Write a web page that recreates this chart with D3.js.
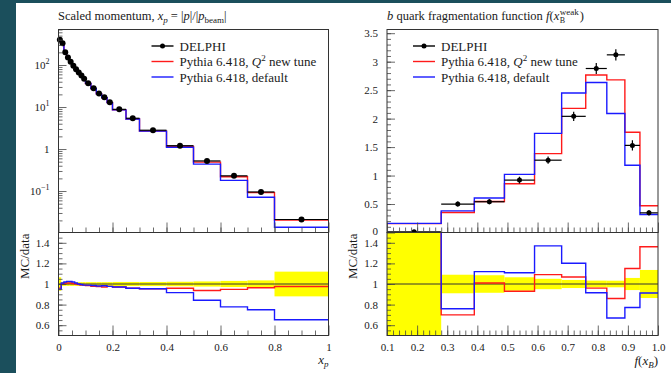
<!DOCTYPE html>
<html>
<head>
<meta charset="utf-8">
<script src="https://cdn.jsdelivr.net/npm/d3@7/dist/d3.min.js"></script>
<style>
    body { margin: 0; background: #1b4f5c; }
    svg { display: block; }
    text { font-family: "Liberation Serif", "DejaVu Serif", serif; fill: #1a1a1a; }
    .frame { fill: none; stroke: #333; stroke-width: 1; }
    .axis path { display: none; }
    .axis line { stroke: #444; stroke-width: 0.8; }
    .axis text { font-size: 11px; font-family: "Liberation Serif", serif; fill: #1a1a1a; }
    .mc-new { fill: none; stroke: #ff1a1a; stroke-width: 1.4; }
    .mc-def { fill: none; stroke: #1a1aff; stroke-width: 1.4; }
    .band { fill: #ffff00; }
    .unity { stroke: #333; stroke-width: 1; }
    .err { stroke: #000; stroke-width: 1.2; }
    .dot { fill: #000; }
</style>
</head>
<body>
<svg id="chart" width="671" height="373"></svg>
<script>
// Scaled momentum x_p ////////////////////////////////////////////////////

var xpEdges = [0, 0.01, 0.02, 0.03, 0.04, 0.05, 0.06, 0.07, 0.08, 0.09, 0.10,
               0.12, 0.14, 0.16, 0.18, 0.20, 0.25, 0.30, 0.40, 0.50, 0.60, 0.70, 0.80, 1.00];
var xpData = [400, 330, 200, 150, 120, 96, 79, 66, 56, 47,
              37, 28, 21, 17, 13, 8.8, 5.4, 2.8, 1.2, 0.52, 0.23, 0.095, 0.021];
var xpRelErr = [0.065, 0.02, 0.018, 0.018, 0.018, 0.018, 0.018, 0.018, 0.018, 0.018,
                0.018, 0.018, 0.018, 0.018, 0.018, 0.02, 0.02, 0.02, 0.022, 0.025, 0.03, 0.035, 0.12];
var xpNewTune = [384, 330, 202, 151.5, 121.2, 96.5, 79, 65.7, 55.4, 46.5,
                 36.4, 27.4, 20.5, 16.5, 12.7, 8.54, 5.18, 2.67, 1.15, 0.487, 0.218, 0.0916, 0.0205];
var xpDefault = [380, 333, 204, 153.8, 123, 97.9, 79.8, 66, 55.7, 46.5,
                 36.6, 27.6, 20.6, 16.7, 12.7, 8.54, 5.18, 2.67, 1.10, 0.438, 0.179, 0.0713, 0.0137];

// b quark fragmentation x_B //////////////////////////////////////////////

var xbEdges = [0.10, 0.28, 0.39, 0.49, 0.59, 0.68, 0.76, 0.83, 0.89, 0.94, 1.00];
var xbData = [0.012, 0.50, 0.54, 0.92, 1.27, 2.04, 2.88, 3.12, 1.53, 0.345];
var xbErr = [0.02, 0.045, 0.046, 0.06, 0.064, 0.08, 0.095, 0.10, 0.09, 0.047];
var xbNewTune = [0.155, 0.35, 0.545, 0.855, 1.385, 2.18, 2.765, 2.68, 1.76, 0.47];
var xbDefault = [0.16, 0.38, 0.605, 1.02, 1.74, 2.45, 2.635, 2.09, 1.18, 0.315];

var legendLabels = ["DELPHI", "Pythia 6.418, ", "Pythia 6.418, default"];

var svg = d3.select("#chart");

// white page area
svg.append("rect")
    .attr("x", 16).attr("y", 3)
    .attr("width", 655).attr("height", 370)
    .attr("fill", "#fff");

var upperTop = 29.5, upperBot = 232.5, ratioBot = 335.5;

// turn bin edges + contents into a stepped polyline
function steps(edges, values) {
    var pts = [];
    values.forEach(function(v, i) {
        pts.push([edges[i], v]);
        pts.push([edges[i + 1], v]);
    });
    return pts;
}

function ratios(mc, data) {
    return mc.map(function(v, i) { return v / data[i] });
}

function drawPanel(p) {
    var g = svg.append("g");
    var x = d3.scaleLinear().domain(p.xDomain).range([p.left, p.right]);
    var y = p.yScale.range([upperBot, upperTop]);
    var r = d3.scaleLinear().domain([0.5, 1.5]).range([ratioBot, upperBot]);

    var clipId = "clip" + p.id;
    svg.append("clipPath").attr("id", clipId)
        .append("rect")
            .attr("x", p.left).attr("y", upperBot)
            .attr("width", p.right - p.left).attr("height", ratioBot - upperBot);

    var mids = p.edges.slice(1).map(function(e, i) { return (e + p.edges[i]) / 2 });

    // Upper: MC histograms
    var line = d3.line().x(function(d) { return x(d[0]) }).y(function(d) { return y(d[1]) });
    g.append("path").attr("class", "mc-new").attr("d", line(steps(p.edges, p.newTune)));
    g.append("path").attr("class", "mc-def").attr("d", line(steps(p.edges, p.def)));

    // Upper: data with errors
    var pts = g.selectAll(".pt")
        .data(p.data)
        .enter()
        .append("g")
            .attr("class", "pt");
    pts.append("line")
        .attr("class", "err")
        .attr("x1", function(d, i) { return x(p.edges[i]) })
        .attr("x2", function(d, i) { return x(p.edges[i + 1]) })
        .attr("y1", function(d) { return y(d) })
        .attr("y2", function(d) { return y(d) });
    pts.append("line")
        .attr("class", "err")
        .attr("x1", function(d, i) { return x(mids[i]) })
        .attr("x2", function(d, i) { return x(mids[i]) })
        .attr("y1", function(d, i) { return y(Math.max(d - p.err[i], p.yMin)) })
        .attr("y2", function(d, i) { return y(d + p.err[i]) });
    pts.append("circle")
        .attr("class", "dot")
        .attr("r", p.dotR)
        .attr("cx", function(d, i) { return x(mids[i]) })
        .attr("cy", function(d) { return y(d) });

    // Ratio: data error band, unity line, MC/data
    var rg = g.append("g").attr("clip-path", "url(#" + clipId + ")");
    rg.selectAll(".band")
        .data(p.data)
        .enter()
        .append("rect")
            .attr("class", "band")
            .attr("x", function(d, i) { return x(p.edges[i]) })
            .attr("width", function(d, i) { return x(p.edges[i + 1]) - x(p.edges[i]) })
            .attr("y", function(d, i) { return r(1 + p.err[i] / d) })
            .attr("height", function(d, i) { return r(1 - p.err[i] / d) - r(1 + p.err[i] / d) });
    rg.append("line")
        .attr("class", "unity")
        .attr("x1", p.left).attr("x2", p.right)
        .attr("y1", r(1)).attr("y2", r(1));
    var rline = d3.line().x(function(d) { return x(d[0]) }).y(function(d) { return r(d[1]) });
    rg.append("path").attr("class", "mc-new").attr("d", rline(steps(p.edges, ratios(p.newTune, p.data))));
    rg.append("path").attr("class", "mc-def").attr("d", rline(steps(p.edges, ratios(p.def, p.data))));

    // Axes: ticks point into the frames
    function yAxes(scale, majors, minors, fmt) {
        g.append("g").attr("class", "axis")
            .attr("transform", "translate(" + p.left + ",0)")
            .call(d3.axisLeft(scale).tickValues(minors).tickSize(-4).tickFormat(""));
        return g.append("g").attr("class", "axis")
            .attr("transform", "translate(" + p.left + ",0)")
            .call(d3.axisLeft(scale).tickValues(majors).tickSize(-8).tickPadding(9).tickFormat(fmt));
    }
    var upperY = yAxes(y, p.yMajors, p.yMinors, p.yFormat);
    if (p.yLabelHtml) {
        upperY.selectAll(".tick text").each(function(d) {
            var t = d3.select(this).text(null);
            p.yLabelHtml(t, d);
        });
    }
    // the "0" of the upper axis sits on the panel border; lift it slightly
    upperY.selectAll(".tick text").filter(function(d) { return d === 0 }).attr("y", -2);
    yAxes(r, [0.6, 0.8, 1, 1.2, 1.4], d3.range(0.55, 1.5, 0.05), d3.format("~g"));

    [upperBot, ratioBot].forEach(function(yy, k) {
        g.append("g").attr("class", "axis")
            .attr("transform", "translate(0," + yy + ")")
            .call(d3.axisBottom(x).tickValues(p.xMinors).tickSize(-5).tickFormat(""));
        g.append("g").attr("class", "axis")
            .attr("transform", "translate(0," + yy + ")")
            .call(d3.axisBottom(x).tickValues(p.xMajors).tickSize(-10).tickPadding(8)
                .tickFormat(k == 1 ? p.xFormat : ""));
    });

    // Frames
    g.append("rect").attr("class", "frame")
        .attr("x", p.left).attr("y", upperTop)
        .attr("width", p.right - p.left).attr("height", upperBot - upperTop);
    g.append("rect").attr("class", "frame")
        .attr("x", p.left).attr("y", upperBot)
        .attr("width", p.right - p.left).attr("height", ratioBot - upperBot);

    // MC/data label
    g.append("text")
        .attr("transform", "translate(" + (p.left - 30) + "," + (upperBot + 1) + ") rotate(-90)")
        .attr("text-anchor", "end")
        .style("font-size", "13px")
        .text("MC/data");

    // Legend
    var leg = g.append("g").attr("transform", "translate(" + p.legendX + ",46)");
    ["#000", "#ff1a1a", "#1a1aff"].forEach(function(c, i) {
        leg.append("line")
            .attr("x1", 0).attr("x2", 22)
            .attr("y1", i * 15.5).attr("y2", i * 15.5)
            .attr("stroke", c).attr("stroke-width", 1.4);
        var t = leg.append("text")
            .attr("x", 28).attr("y", i * 15.5 + 4.5)
            .style("font-size", "13px")
            .text(legendLabels[i]);
        if (i == 1) {
            t.append("tspan").style("font-style", "italic").text("Q");
            t.append("tspan").attr("dy", -5).style("font-size", "9px").text("2");
            t.append("tspan").attr("dy", 5).text(" new tune");
        }
    });
    leg.append("circle").attr("class", "dot").attr("cx", 11).attr("cy", 0).attr("r", 2.5);

    return { x: x, y: y, r: r, g: g };
}

// Left panel
var left = drawPanel({
    id: "L",
    left: 58.5, right: 328.5,
    xDomain: [0, 1],
    yScale: d3.scaleLog().domain([0.0103, 700]),
    yMin: 0.0103,
    edges: xpEdges, data: xpData,
    err: xpData.map(function(d, i) { return d * xpRelErr[i] }),
    newTune: xpNewTune, def: xpDefault,
    dotR: 3,
    yMajors: [0.1, 1, 10, 100],
    yMinors: d3.scaleLog().domain([0.0103, 700]).ticks().filter(function(v) {
        return Math.abs(Math.log10(v) - Math.round(Math.log10(v))) > 1e-6;
    }),
    yFormat: "",
    yLabelHtml: function(t, d) {
        var e = Math.round(Math.log10(d));
        if (e == 0) { t.text("1"); return; }
        t.text("10");
        t.append("tspan").attr("dy", -5).style("font-size", "8px").text(e < 0 ? "\u2212" + (-e) : e);
    },
    xMajors: [0, 0.2, 0.4, 0.6, 0.8, 1],
    xMinors: d3.range(0.05, 1, 0.05),
    xFormat: d3.format("~g"),
    legendX: 151.5
});

// Right panel
var right = drawPanel({
    id: "R",
    left: 387, right: 658,
    xDomain: [0.1, 1.0],
    yScale: d3.scaleLinear().domain([0, 3.565]),
    yMin: 0,
    edges: xbEdges, data: xbData, err: xbErr,
    newTune: xbNewTune, def: xbDefault,
    dotR: 2.5,
    yMajors: [0, 0.5, 1, 1.5, 2, 2.5, 3, 3.5],
    yMinors: d3.range(0.1, 3.55, 0.1),
    yFormat: d3.format("~g"),
    xMajors: d3.range(0.1, 1.05, 0.1),
    xMinors: d3.range(0.12, 1.0, 0.02),
    xFormat: d3.format(".1f"),
    legendX: 413
});

// Titles
var t1 = svg.append("text").attr("x", 58).attr("y", 20).style("font-size", "12.5px");
t1.append("tspan").text("Scaled momentum, ");
t1.append("tspan").style("font-style", "italic").text("x");
t1.append("tspan").attr("dy", 3).style("font-size", "9px").style("font-style", "italic").text("p");
t1.append("tspan").attr("dy", -3).text(" = |");
t1.append("tspan").style("font-style", "italic").text("p");
t1.append("tspan").text("|/|");
t1.append("tspan").style("font-style", "italic").text("p");
t1.append("tspan").attr("dy", 3).style("font-size", "9px").text("beam");
t1.append("tspan").attr("dy", -3).text("|");

var t2 = svg.append("text").attr("x", 387).attr("y", 20).style("font-size", "12.5px");
t2.append("tspan").style("font-style", "italic").text("b");
t2.append("tspan").text(" quark fragmentation function ");
t2.append("tspan").style("font-style", "italic").text("f");
t2.append("tspan").text("(");
t2.append("tspan").style("font-style", "italic").text("x");
var t2end = 387 + t2.node().getComputedTextLength() + 0.5;
var sup = svg.append("text").attr("x", t2end).attr("y", 15).style("font-size", "9px").text("weak");
svg.append("text").attr("x", t2end).attr("y", 23).style("font-size", "8px").text("B");
svg.append("text").attr("x", t2end + sup.node().getComputedTextLength() + 1).attr("y", 20)
    .style("font-size", "12.5px").text(")");

// x-axis labels
var xl1 = svg.append("text").attr("x", 328.5).attr("y", 364).attr("text-anchor", "end").style("font-size", "13px");
xl1.append("tspan").style("font-style", "italic").text("x");
xl1.append("tspan").attr("dy", 3).style("font-size", "9px").style("font-style", "italic").text("p");

var xl2 = svg.append("text").attr("x", 658).attr("y", 365).attr("text-anchor", "end").style("font-size", "13px");
xl2.append("tspan").style("font-style", "italic").text("f");
xl2.append("tspan").text("(");
xl2.append("tspan").style("font-style", "italic").text("x");
xl2.append("tspan").attr("dy", 3).style("font-size", "9px").style("font-style", "italic").text("B");
xl2.append("tspan").attr("dy", -3).text(")");
</script>
</body>
</html>
